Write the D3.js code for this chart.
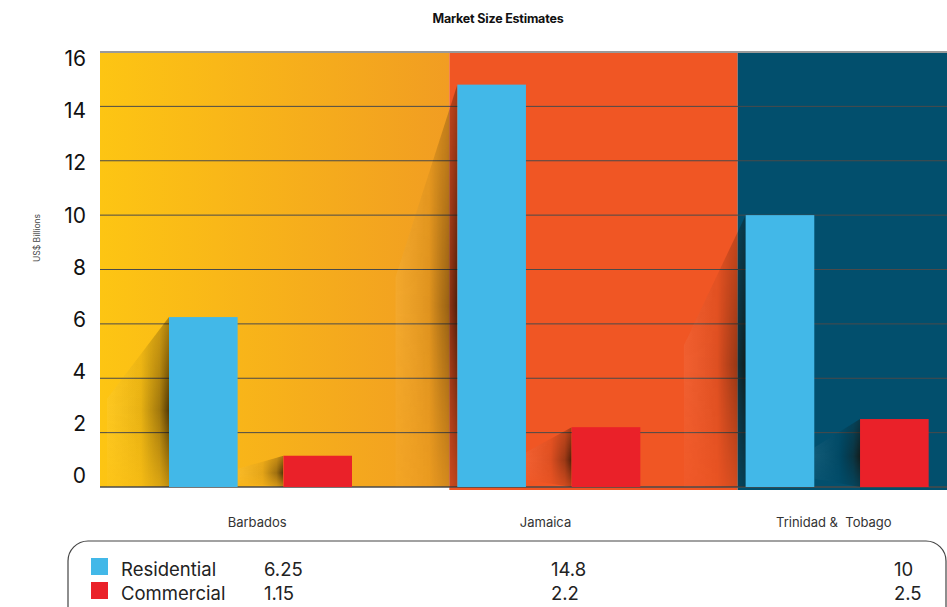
<!DOCTYPE html>
<html>
<head>
<meta charset="utf-8">
<script src="https://cdn.jsdelivr.net/npm/d3@7"></script>
<style>
  body { margin: 0; background: #fff; }
  svg { display: block; font-family: Inter, "Open Sans", sans-serif; }
</style>
</head>
<body>
<svg id="chart" width="947" height="607"></svg>
<script>
// ---- data ----
const categories = ["Barbados", "Jamaica", "Trinidad &  Tobago"];
const seriesNames = ["Residential", "Commercial"];
const residential = [6.25, 14.8, 10];
const commercial = [1.15, 2.2, 2.5];
const yTickValues = [0, 2, 4, 6, 8, 10, 12, 14, 16];

// ---- layout ----
const W = 947, H = 607;
const plotLeft = 100, plotRight = 947, plotTop = 52, plotBottom = 487;
const seriesColor = { Residential: "#42b8e8", Commercial: "#ea2129" };
const valueColumnX = [264, 551, 894];

const svg = d3.select("#chart");
const defs = svg.append("defs");

const x0 = d3.scaleBand().domain(categories).range([113, 978]);
const x1 = d3.scaleBand().domain(seriesNames).range([56, 239]).paddingInner(0.4);
const y = d3.scaleLinear().domain([0, 16]).range([plotBottom, plotTop]);
const yLabel = d3.scaleLinear().domain([0, 16]).range([476, 59]);

const rows = categories.map((c, i) => ({
  cat: c,
  values: [
    { series: "Residential", value: residential[i] },
    { series: "Commercial", value: commercial[i] }
  ]
}));

// ---- gradients ----
const warm = defs.append("linearGradient").attr("id", "warm")
  .attr("x1", 0).attr("x2", 1).attr("y1", 0).attr("y2", 0);
warm.append("stop").attr("offset", 0).attr("stop-color", "#fdc513");
warm.append("stop").attr("offset", 1).attr("stop-color", "#f19d22");

const shade = defs.append("linearGradient").attr("id", "shade")
  .attr("x1", 0).attr("x2", 1).attr("y1", 0).attr("y2", 0);
shade.append("stop").attr("offset", 0).attr("stop-color", "#fff").attr("stop-opacity", 0.06);
shade.append("stop").attr("offset", 0.55).attr("stop-color", "#000").attr("stop-opacity", 0.08);
shade.append("stop").attr("offset", 0.85).attr("stop-color", "#1a0c00").attr("stop-opacity", 0.4);
shade.append("stop").attr("offset", 1).attr("stop-color", "#1a0c00").attr("stop-opacity", 0.75);

const vfade = defs.append("linearGradient").attr("id", "vfade")
  .attr("x1", 0).attr("x2", 0).attr("y1", 0).attr("y2", 1);
vfade.append("stop").attr("offset", 0).attr("stop-color", "#fff").attr("stop-opacity", 0.45);
vfade.append("stop").attr("offset", 0.55).attr("stop-color", "#fff").attr("stop-opacity", 1);
vfade.append("stop").attr("offset", 1).attr("stop-color", "#fff").attr("stop-opacity", 0.35);
defs.append("mask").attr("id", "vmask")
  .attr("maskContentUnits", "objectBoundingBox")
  .append("rect").attr("width", 1).attr("height", 1).attr("fill", "url(#vfade)");

// ---- background panels, one per country ----
const panelFills = ["url(#warm)", "#f05624", "#024f6d"];
const panelBottoms = [plotBottom, plotBottom + 3, plotBottom + 3];
const panelStart = (c, i) => i === 0 ? plotLeft : x0(c) + x1("Residential") - 8;
svg.append("g").selectAll("rect").data(categories).join("rect")
  .attr("x", (c, i) => panelStart(c, i))
  .attr("y", plotTop)
  .attr("width", (c, i) => (i < categories.length - 1 ? panelStart(categories[i + 1], i + 1) : plotRight) - panelStart(c, i))
  .attr("height", (c, i) => panelBottoms[i] - plotTop)
  .attr("fill", (c, i) => panelFills[i]);

// ---- gridlines ----
svg.append("g").selectAll("line").data(yTickValues).join("line")
  .attr("x1", plotLeft).attr("x2", plotRight)
  .attr("y1", d => y(d)).attr("y2", d => y(d))
  .attr("stroke", d => d === 16 ? "#9a9a9a" : "#4a4a4a")
  .attr("stroke-width", d => d === 16 ? 2 : (d === 0 ? 1.5 : 1));

// ---- bar shadows ----
const shadowG = svg.append("g");
rows.forEach(r => {
  const gx = x0(r.cat);
  const bw = x1.bandwidth();
  r.values.forEach(v => {
    const bx = gx + x1(v.series);
    const top = y(v.value), base = y(0), h = base - top;
    let pts;
    if (v.series === "Residential") {
      const left = bx - 62;
      pts = [[bx, top], [left, top + 0.48 * h], [left, base], [bx, base]];
    } else {
      const left = gx + x1("Residential") + bw;
      pts = [[bx, top], [left, top + 0.42 * h], [left, base - 0.12 * h], [bx, base]];
    }
    shadowG.append("polygon")
      .attr("points", pts.map(p => p.join(",")).join(" "))
      .attr("fill", "url(#shade)")
      .attr("mask", "url(#vmask)");
  });
});

// ---- bars ----
svg.append("g").selectAll("g").data(rows).join("g")
  .attr("transform", d => `translate(${x0(d.cat)},0)`)
  .selectAll("rect").data(d => d.values).join("rect")
  .attr("x", d => x1(d.series))
  .attr("y", d => y(d.value))
  .attr("width", x1.bandwidth())
  .attr("height", d => y(0) - y(d.value))
  .attr("fill", d => seriesColor[d.series]);

// ---- y axis ----
const yAxis = svg.append("g")
  .attr("transform", "translate(86,0)")
  .call(d3.axisLeft(yLabel).tickValues(yTickValues).tickSize(0).tickPadding(0));
yAxis.select(".domain").remove();
yAxis.selectAll("text")
  .attr("font-family", "Inter, sans-serif")
  .attr("font-size", 21)
  .attr("fill", "#111");

svg.append("text")
  .attr("transform", "translate(40,238) rotate(-90)")
  .attr("text-anchor", "middle")
  .attr("font-size", 8.5)
  .attr("fill", "#444")
  .text("US$ Billions");

// ---- title ----
svg.append("text")
  .attr("x", 498).attr("y", 23)
  .attr("text-anchor", "middle")
  .attr("font-size", 12.5)
  .attr("font-weight", 700)
  .attr("letter-spacing", -0.2)
  .attr("fill", "#111")
  .text("Market Size Estimates");

// ---- category labels ----
svg.append("g").selectAll("text").data(categories).join("text")
  .attr("x", c => x0(c) + x0.bandwidth() / 2)
  .attr("y", 527)
  .attr("text-anchor", "middle")
  .attr("font-size", 13)
  .attr("fill", "#333")
  .style("white-space", "pre")
  .text(c => c);

// ---- data table legend ----
svg.append("rect")
  .attr("x", 68).attr("y", 541)
  .attr("width", 878).attr("height", 110)
  .attr("rx", 20).attr("ry", 20)
  .attr("fill", "none")
  .attr("stroke", "#444")
  .attr("stroke-width", 1.2);

const tableSeries = [
  { name: "Residential", values: residential },
  { name: "Commercial", values: commercial }
];
const tRow = svg.append("g").selectAll("g").data(tableSeries).join("g")
  .attr("transform", (d, i) => `translate(0,${576 + i * 24})`);
tRow.append("rect")
  .attr("x", 91).attr("y", -18)
  .attr("width", 17).attr("height", 17)
  .attr("fill", d => seriesColor[d.name]);
tRow.append("text")
  .attr("x", 121).attr("y", 0)
  .attr("font-size", 18.5)
  .attr("fill", "#222")
  .text(d => d.name);
tRow.selectAll("text.val").data(d => d.values).join("text")
  .attr("class", "val")
  .attr("x", (v, j) => valueColumnX[j]).attr("y", 0)
  .attr("font-size", 18.5)
  .attr("fill", "#222")
  .text(v => String(v));
</script>
</body>
</html>
